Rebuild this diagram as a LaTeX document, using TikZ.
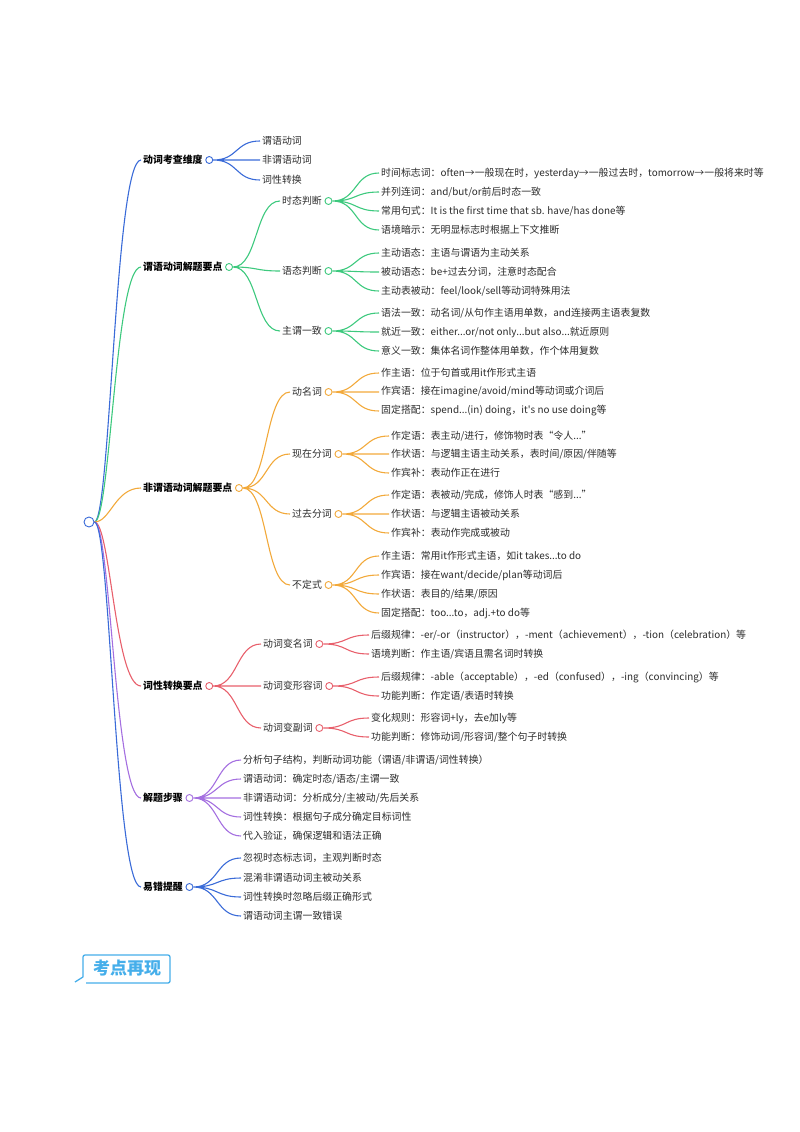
\documentclass[tikz,border=0pt]{standalone}
\usepackage{fontspec}
\setmainfont{Noto Sans CJK SC}
\usetikzlibrary{positioning}
\definecolor{cblue}{HTML}{3A6BD8}
\definecolor{cgreen}{HTML}{3DC97E}
\definecolor{corange}{HTML}{F2A93B}
\definecolor{cred}{HTML}{E8606C}
\definecolor{cpurple}{HTML}{A46FE0}
\definecolor{cbadge}{HTML}{45AEEA}
\definecolor{ctext}{HTML}{2C2C2C}

\begin{document}
\begin{tikzpicture}
  [x=1pt,y=-1pt,
   every node/.style={font=\fontsize{9.9}{11}\selectfont,text=ctext,inner sep=2pt,anchor=west},
   main/.style={font=\fontsize{9.9}{11}\selectfont\bfseries,text=black},
   knob/.style={circle,draw,fill=white,anchor=center,inner sep=0pt,
     minimum size=7pt,line width=0.9pt},
   trunk/.style={line width=1.1pt,
     to path={.. controls +(16,0) and +(-26,0) .. (\tikztotarget)}},
   branch/.style={line width=1.1pt,
     to path={.. controls +(25,0) and +(-25,0) .. (\tikztotarget)}}
  ]
  \useasboundingbox (0,0) rectangle (800,1132);

  % root
  \node[knob,draw=cblue,minimum size=10pt] (root) at (89,522) {};

  % dimensions
  \node[main] (wd) at (141,160) {动词考查维度};
  \node[knob,draw=cblue,right=0.5pt of wd] (wd-o) {};
  \node (wd1) at (260,141) {谓语动词};
  \node (wd2) at (260,160) {非谓语动词};
  \node (wd3) at (260,180) {词性转换};
  \draw[cblue,trunk] (root.east) to (wd.west);
  \draw[cblue,branch] (wd-o.east) to (wd1.west)
    (wd-o.east) to (wd2.west) (wd-o.east) to (wd3.west);

  % predicate verbs
  \node[main] (wy) at (141,267) {谓语动词解题要点};
  \node[knob,draw=cgreen,right=0.5pt of wy] (wy-o) {};
  \draw[cgreen,trunk] (root.east) to (wy.west);
  \node (wy1) at (280,201) {时态判断};
  \node[knob,draw=cgreen,right=0.5pt of wy1] (wy1-o) {};
  \node (wy2) at (280,271) {语态判断};
  \node[knob,draw=cgreen,right=0.5pt of wy2] (wy2-o) {};
  \node (wy3) at (280,331) {主谓一致};
  \node[knob,draw=cgreen,right=0.5pt of wy3] (wy3-o) {};
  \draw[cgreen,branch] (wy-o.east) to (wy1.west)
    (wy-o.east) to (wy2.west) (wy-o.east) to (wy3.west);
  \node (wy1a) at (379,173) {时间标志词：often→一般现在时，yesterday→一般过去时，tomorrow→一般将来时等};
  \node (wy1b) at (379,192) {并列连词：and/but/or前后时态一致};
  \node (wy1c) at (379,211) {常用句式：It is the first time that sb. have/has done等};
  \node (wy1d) at (379,230) {语境暗示：无明显标志时根据上下文推断};
  \draw[cgreen,branch] (wy1-o.east) to (wy1a.west) (wy1-o.east) to (wy1b.west)
    (wy1-o.east) to (wy1c.west) (wy1-o.east) to (wy1d.west);
  \node (wy2a) at (379,253) {主动语态：主语与谓语为主动关系};
  \node (wy2b) at (379,272) {被动语态：be+过去分词，注意时态配合};
  \node (wy2c) at (379,291) {主动表被动：feel/look/sell等动词特殊用法};
  \draw[cgreen,branch] (wy2-o.east) to (wy2a.west)
    (wy2-o.east) to (wy2b.west) (wy2-o.east) to (wy2c.west);
  \node (wy3a) at (379,313) {语法一致：动名词/从句作主语用单数，and连接两主语表复数};
  \node (wy3b) at (379,332) {就近一致：either...or/not only...but also...就近原则};
  \node (wy3c) at (379,351) {意义一致：集体名词作整体用单数，作个体用复数};
  \draw[cgreen,branch] (wy3-o.east) to (wy3a.west)
    (wy3-o.east) to (wy3b.west) (wy3-o.east) to (wy3c.west);

  % non-finite verbs
  \node[main] (fw) at (141,488) {非谓语动词解题要点};
  \node[knob,draw=corange,right=0.5pt of fw] (fw-o) {};
  \draw[corange,trunk] (root.east) to (fw.west);
  \node (fw1) at (290,392) {动名词};
  \node[knob,draw=corange,right=0.5pt of fw1] (fw1-o) {};
  \node (fw2) at (290,454) {现在分词};
  \node[knob,draw=corange,right=0.5pt of fw2] (fw2-o) {};
  \node (fw3) at (290,514) {过去分词};
  \node[knob,draw=corange,right=0.5pt of fw3] (fw3-o) {};
  \node (fw4) at (290,585) {不定式};
  \node[knob,draw=corange,right=0.5pt of fw4] (fw4-o) {};
  \draw[corange,branch] (fw-o.east) to (fw1.west) (fw-o.east) to (fw2.west)
    (fw-o.east) to (fw3.west) (fw-o.east) to (fw4.west);
  \node (fw1a) at (379,373) {作主语：位于句首或用it作形式主语};
  \node (fw1b) at (379,392) {作宾语：接在imagine/avoid/mind等动词或介词后};
  \node (fw1c) at (379,411) {固定搭配：spend...(in) doing，it\textquotesingle s no use doing等};
  \draw[corange,branch] (fw1-o.east) to (fw1a.west)
    (fw1-o.east) to (fw1b.west) (fw1-o.east) to (fw1c.west);
  \node (fw2a) at (389,436) {作定语：表主动/进行，修饰物时表“令人...”};
  \node (fw2b) at (389,454) {作状语：与逻辑主语主动关系，表时间/原因/伴随等};
  \node (fw2c) at (389,473) {作宾补：表动作正在进行};
  \draw[corange,branch] (fw2-o.east) to (fw2a.west)
    (fw2-o.east) to (fw2b.west) (fw2-o.east) to (fw2c.west);
  \node (fw3a) at (389,495) {作定语：表被动/完成，修饰人时表“感到...”};
  \node (fw3b) at (389,514) {作状语：与逻辑主语被动关系};
  \node (fw3c) at (389,533) {作宾补：表动作完成或被动};
  \draw[corange,branch] (fw3-o.east) to (fw3a.west)
    (fw3-o.east) to (fw3b.west) (fw3-o.east) to (fw3c.west);
  \node (fw4a) at (379,556) {作主语：常用it作形式主语，如it takes...to do};
  \node (fw4b) at (379,575) {作宾语：接在want/decide/plan等动词后};
  \node (fw4c) at (379,594) {作状语：表目的/结果/原因};
  \node (fw4d) at (379,613) {固定搭配：too...to，adj.+to do等};
  \draw[corange,branch] (fw4-o.east) to (fw4a.west) (fw4-o.east) to (fw4b.west)
    (fw4-o.east) to (fw4c.west) (fw4-o.east) to (fw4d.west);

  % word class conversion
  \node[main] (cx) at (141,686) {词性转换要点};
  \node[knob,draw=cred,right=0.5pt of cx] (cx-o) {};
  \draw[cred,trunk] (root.east) to (cx.west);
  \node (cx1) at (261,644) {动词变名词};
  \node[knob,draw=cred,right=0.5pt of cx1] (cx1-o) {};
  \node (cx2) at (261,686) {动词变形容词};
  \node[knob,draw=cred,right=0.5pt of cx2] (cx2-o) {};
  \node (cx3) at (261,728) {动词变副词};
  \node[knob,draw=cred,right=0.5pt of cx3] (cx3-o) {};
  \draw[cred,branch] (cx-o.east) to (cx1.west)
    (cx-o.east) to (cx2.west) (cx-o.east) to (cx3.west);
  \node (cx1a) at (369,635) {后缀规律：-er/-or（instructor），-ment（achievement），-tion（celebration）等};
  \node (cx1b) at (369,654) {语境判断：作主语/宾语且需名词时转换};
  \draw[cred,branch] (cx1-o.east) to (cx1a.west) (cx1-o.east) to (cx1b.west);
  \node (cx2a) at (379,677) {后缀规律：-able（acceptable），-ed（confused），-ing（convincing）等};
  \node (cx2b) at (379,696) {功能判断：作定语/表语时转换};
  \draw[cred,branch] (cx2-o.east) to (cx2a.west) (cx2-o.east) to (cx2b.west);
  \node (cx3a) at (369,718) {变化规则：形容词+ly，去e加ly等};
  \node (cx3b) at (369,737) {功能判断：修饰动词/形容词/整个句子时转换};
  \draw[cred,branch] (cx3-o.east) to (cx3a.west) (cx3-o.east) to (cx3b.west);

  % steps
  \node[main] (bz) at (141,798) {解题步骤};
  \node[knob,draw=cpurple,right=0.5pt of bz] (bz-o) {};
  \draw[cpurple,trunk] (root.east) to (bz.west);
  \node (bz1) at (241,760) {分析句子结构，判断动词功能（谓语/非谓语/词性转换）};
  \node (bz2) at (241,779) {谓语动词：确定时态/语态/主谓一致};
  \node (bz3) at (241,798) {非谓语动词：分析成分/主被动/先后关系};
  \node (bz4) at (241,817) {词性转换：根据句子成分确定目标词性};
  \node (bz5) at (241,836) {代入验证，确保逻辑和语法正确};
  \draw[cpurple,branch] (bz-o.east) to (bz1.west) (bz-o.east) to (bz2.west)
    (bz-o.east) to (bz3.west) (bz-o.east) to (bz4.west) (bz-o.east) to (bz5.west);

  % common mistakes
  \node[main] (yc) at (141,887) {易错提醒};
  \node[knob,draw=cblue,right=0.5pt of yc] (yc-o) {};
  \draw[cblue,trunk] (root.east) to (yc.west);
  \node (yc1) at (241,858) {忽视时态标志词，主观判断时态};
  \node (yc2) at (241,878) {混淆非谓语动词主被动关系};
  \node (yc3) at (241,897) {词性转换时忽略后缀正确形式};
  \node (yc4) at (241,916) {谓语动词主谓一致错误};
  \draw[cblue,branch] (yc-o.east) to (yc1.west) (yc-o.east) to (yc2.west)
    (yc-o.east) to (yc3.west) (yc-o.east) to (yc4.west);

  % badge
  \draw[cbadge,line width=1.3pt,rounded corners=2pt]
    (83,977) -- (83,955) -- (170,955) -- (170,983) -- (86,983);
  \draw[cbadge,line width=1.3pt] (83,977) -- (75,982);
  \node[anchor=center,font=\fontsize{17}{19}\selectfont\bfseries,text=cbadge]
    (badge) at (127,968) {考点再现};
\end{tikzpicture}
\end{document}
